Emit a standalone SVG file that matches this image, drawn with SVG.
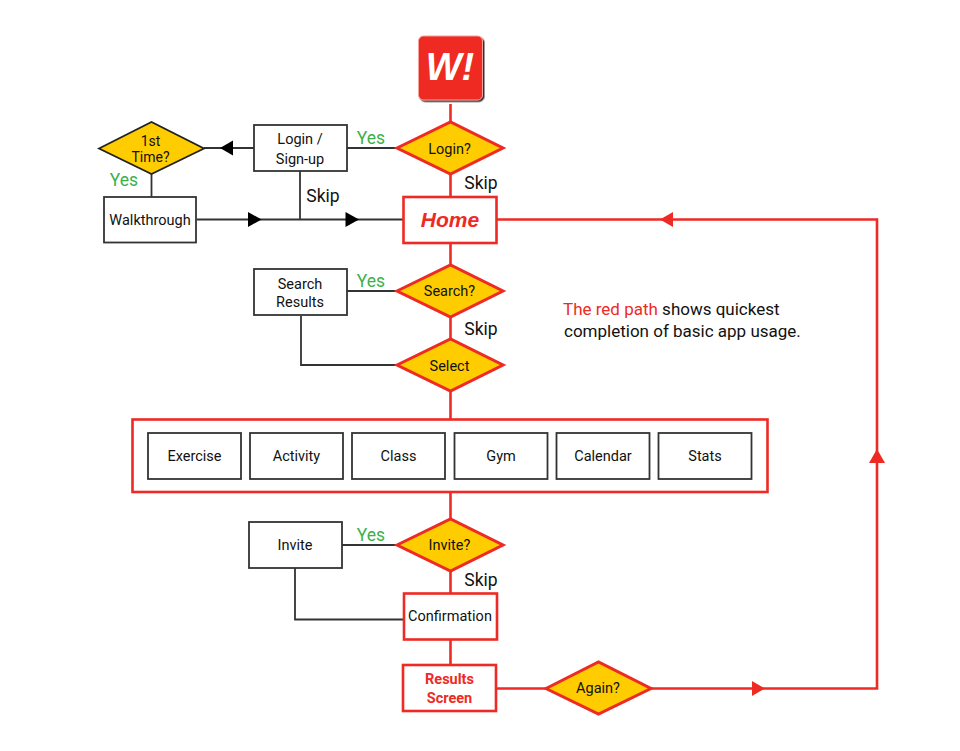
<svg xmlns="http://www.w3.org/2000/svg" width="960" height="751" viewBox="0 0 960 751">
<defs><style>
text{font-family:Roboto,"Liberation Sans",Arial,sans-serif;font-size:14.500px;fill:#111;text-anchor:middle}
.box{fill:#fff;stroke:#333;stroke-width:1.8}
.rbox{fill:#fff;stroke:#ee2a24;stroke-width:2.600}
.rd{fill:#ffcc00;stroke:#ee2a24;stroke-width:3}
.bd{fill:#ffcc00;stroke:#222;stroke-width:1.800}
.k{fill:none;stroke:#333;stroke-width:1.800}
.r{fill:none;stroke:#ee2a24;stroke-width:2.600}
.y{fill:#3bb14a;font-size:17.500px}
.s{font-size:17.500px}
.a{fill:#000}.ar{fill:#ee2a24}
.t{font-size:14px}
.n{text-anchor:start;font-size:17px}
</style>
<filter id="sh" x="-20%" y="-20%" width="150%" height="150%"><feDropShadow dx="1.500" dy="1.500" stdDeviation="0.700" flood-color="#333"/></filter>
</defs>
<rect width="960" height="751" fill="#fff"/>
<g id="connectors">
<path class="k" d="M397 148H204"/>
<path class="k" d="M151.500 174V197"/>
<path class="k" d="M197 219.500H403"/>
<path class="k" d="M300 171V219.500"/>
<path class="k" d="M347 291H397"/>
<path class="k" d="M301 316V365H397"/>
<path class="k" d="M342 545H397"/>
<path class="k" d="M295 568V619.500H404"/>
<path class="r" d="M450.500 104V123"/>
<path class="r" d="M450.500 174V197"/>
<path class="r" d="M450.500 243V265"/>
<path class="r" d="M450.500 317V340"/>
<path class="r" d="M450.500 391V420"/>
<path class="r" d="M450.500 492V520"/>
<path class="r" d="M450.500 571V594"/>
<path class="r" d="M450.500 640V665"/>
<path class="r" d="M496 688.500H546"/>
<path class="r" d="M651 688.500H877V219.500H497"/>
<polygon class="a" points="220,148 233,140.500 233,155.500"/>
<polygon class="a" points="261.500,219.500 248,212 248,227"/>
<polygon class="a" points="359,219.500 345.500,212 345.500,227"/>
<polygon class="ar" points="660,219.500 673,212 673,227"/>
<polygon class="ar" points="877,449 869,463 885,463"/>
<polygon class="ar" points="765,688.500 752,681 752,696"/>
</g>
<g id="start"><rect x="418.500" y="36" width="64" height="64" rx="5" fill="#ee2a24" stroke="#f6a09a" stroke-width="1" filter="url(#sh)"/><text x="450" y="80" style="font-family:'Liberation Sans',Arial,sans-serif;font-size:38px;font-weight:700;font-style:italic;fill:#fff">W!</text></g>
<g id="first-time"><polygon class="bd" points="99,148.500 151.500,122 204,148.500 151.500,174"/><text class="t" x="150.500" y="145.500">1st</text><text class="t" x="150.500" y="162">Time?</text></g>
<g id="login-signup"><rect class="box" x="254" y="125" width="93" height="46"/><text x="300" y="144">Login /</text><text x="300" y="163.500">Sign-up</text></g>
<g id="login"><polygon class="rd" points="397,148 450.500,122 503,148 450.500,174"/><text x="449.500" y="153.500">Login?</text></g>
<g id="walkthrough"><rect class="box" x="104" y="197" width="92" height="45.500"/><text x="150" y="225">Walkthrough</text></g>
<g id="home"><rect class="rbox" x="403.500" y="197" width="93" height="46"/><text x="450" y="227" style="font-family:'Liberation Sans',Arial,sans-serif;font-size:21px;font-weight:700;font-style:italic;fill:#ee2a24">Home</text></g>
<g id="search-results"><rect class="box" x="254" y="269" width="93" height="46"/><text x="300" y="289">Search</text><text x="300" y="307">Results</text></g>
<g id="search"><polygon class="rd" points="397,291 450.500,265 503,291 450.500,317"/><text x="449.500" y="296">Search?</text></g>
<g id="select"><polygon class="rd" points="397,365 450.500,339 503,365 450.500,391"/><text x="449.500" y="371">Select</text></g>
<g id="features"><rect class="rbox" x="132.500" y="419.500" width="635" height="72.500"/></g>
<g id="exercise"><rect class="box" x="148" y="433" width="93" height="46"/><text x="194.500" y="461">Exercise</text></g>
<g id="activity"><rect class="box" x="250" y="433" width="93" height="46"/><text x="296.500" y="461">Activity</text></g>
<g id="class"><rect class="box" x="352" y="433" width="93" height="46"/><text x="398.500" y="461">Class</text></g>
<g id="gym"><rect class="box" x="454.500" y="433" width="93" height="46"/><text x="501" y="461">Gym</text></g>
<g id="calendar"><rect class="box" x="556.500" y="433" width="93" height="46"/><text x="603" y="461">Calendar</text></g>
<g id="stats"><rect class="box" x="658.500" y="433" width="93" height="46"/><text x="705" y="461">Stats</text></g>
<g id="invite-box"><rect class="box" x="249" y="522" width="93" height="46"/><text x="295" y="550">Invite</text></g>
<g id="invite"><polygon class="rd" points="397,545 450.500,519 503,545 450.500,571"/><text x="449.500" y="550">Invite?</text></g>
<g id="confirmation"><rect class="rbox" x="404" y="593.500" width="93" height="46"/><text x="450" y="621">Confirmation</text></g>
<g id="results"><rect class="rbox" x="403" y="665" width="93" height="46"/><text x="449.500" y="684" style="fill:#ee2a24;font-weight:700">Results</text><text x="449.500" y="702.500" style="fill:#ee2a24;font-weight:700">Screen</text></g>
<g id="again"><polygon class="rd" points="546,688.500 598.500,662 651,688.500 598.500,714"/><text x="598" y="693">Again?</text></g>
<g id="labels">
<text class="y" x="371" y="143.500">Yes</text>
<text class="y" x="124" y="186">Yes</text>
<text class="s" x="481" y="188.500">Skip</text>
<text class="s" x="323" y="201.500">Skip</text>
<text class="y" x="371" y="286.500">Yes</text>
<text class="s" x="481" y="334.500">Skip</text>
<text class="y" x="371" y="540.500">Yes</text>
<text class="s" x="481" y="585.500">Skip</text>
<text class="n" x="563" y="315"><tspan fill="#ee2a24">The red path</tspan> shows quickest</text>
<text class="n" x="564" y="337">completion of basic app usage.</text>
</g>
</svg>
